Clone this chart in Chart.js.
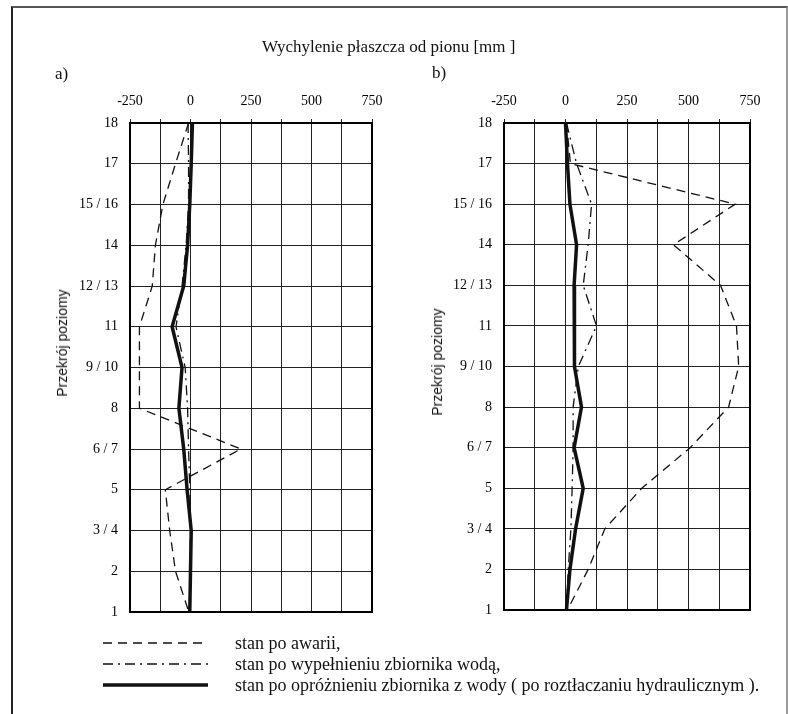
<!DOCTYPE html>
<html>
<head>
<meta charset="utf-8">
<script src="https://cdn.jsdelivr.net/npm/chart.js@4.4.0/dist/chart.umd.min.js"></script>
<style>
  body { margin: 0; background: #fff; }
  #page { position: relative; width: 788px; height: 714px; overflow: hidden; font-family: 'Liberation Serif', serif; color: #111; }
  #frame { position: absolute; left: 11px; top: 6px; width: 773px; height: 740px; border-top: 2px solid #555; border-left: 2px solid #222; border-right: 2px solid #999; }
  canvas { position: absolute; top: 0; }
  .txt { position: absolute; white-space: nowrap; line-height: 1; }
  .ytitle { position: absolute; font-family: 'Liberation Sans', sans-serif; font-size: 14px; transform: translate(-50%, -50%) rotate(-90deg); white-space: nowrap; }
  .leg { position: absolute; left: 235px; font-size: 18px; white-space: nowrap; line-height: 1; }
</style>
</head>
<body>
<div id="page">
  <div id="frame"></div>
  <canvas id="chartA" width="394" height="640" style="left:0"></canvas>
  <canvas id="chartB" width="394" height="640" style="left:394px"></canvas>

  <div class="txt" style="left:262px; top:38px; font-size:17px;">Wychylenie płaszcza od pionu [mm ]</div>
  <div class="txt" style="left:55px; top:65px; font-size:17px;">a)</div>
  <div class="txt" style="left:432px; top:64px; font-size:17px;">b)</div>
  <div class="ytitle" style="left:62px; top:343px;">Przekrój poziomy</div>
  <div class="ytitle" style="left:437px; top:362px;">Przekrój poziomy</div>

  <svg style="position:absolute; left:100px; top:630px;" width="120" height="70">
    <line x1="3" y1="13" x2="108" y2="13" stroke="#111" stroke-width="1.3" stroke-dasharray="9 6"></line>
    <line x1="3" y1="34" x2="108" y2="34" stroke="#111" stroke-width="1.3" stroke-dasharray="10 5 2 5"></line>
    <line x1="3" y1="55" x2="108" y2="55" stroke="#111" stroke-width="3.5"></line>
  </svg>
  <div class="leg" style="top:634px;">stan po awarii,</div>
  <div class="leg" style="top:655px;">stan po wypełnieniu zbiornika wodą,</div>
  <div class="leg" style="top:676px;">stan po opróżnieniu zbiornika z wody ( po roztłaczaniu hydraulicznym ).</div>
</div>

<script>
// przekroje, od góry (18) do dołu (1)
const levels = ['18', '17', '15 / 16', '14', '12 / 13', '11', '9 / 10', '8', '6 / 7', '5', '3 / 4', '2', '1'];
const xTicks = [-250, 0, 250, 500, 750];

// a)
const aAwaria = [-8, -62, -114, -145, -158, -211, -211, -211, 208, -104, -86, -62, -7];
const aWypelnienie = [-10, -8, -8, -18, -35, -60, -22, -12, -8, -3, 0, -2, -5];
const aOproznienie = [8, 3, -3, -12, -28, -76, -35, -48, -28, -14, 3, 0, -3];

// b)
const bAwaria = [4, 20, 690, 439, 630, 695, 704, 663, 507, 310, 160, 92, 8];
const bWypelnienie = [4, 45, 106, 92, 72, 126, 52, 31, 31, 27, 22, 11, 4];
const bOproznienie = [0, 8, 18, 45, 35, 35, 38, 65, 35, 72, 41, 18, 4];

// ramka wokół pola wykresu
const boxPlugin = {
    id: 'box',
    afterDatasetsDraw(chart) {
        const { ctx, chartArea: a } = chart;
        ctx.save();
        ctx.strokeStyle = '#000';
        ctx.lineWidth = 2;
        ctx.strokeRect(a.left, a.top, a.right - a.left, a.bottom - a.top);
        ctx.restore();
    }
};

function datasets(awaria, wypelnienie, oproznienie) {
    return [
        { label: 'stan po awarii', data: awaria, borderColor: '#111', borderWidth: 1.3, borderDash: [9, 6] },
        { label: 'stan po wypełnieniu zbiornika wodą', data: wypelnienie, borderColor: '#111', borderWidth: 1.3, borderDash: [10, 5, 2, 5] },
        { label: 'stan po opróżnieniu zbiornika z wody', data: oproznienie, borderColor: '#111', borderWidth: 3.5 }
    ];
}

function drawPanel(id, sets, yWidth, padRight, padBottom) {
    const ctx = document.getElementById(id).getContext('2d');
    return new Chart(ctx, {
        type: 'line',
        data: { labels: levels, datasets: sets },
        plugins: [boxPlugin],
        options: {
            responsive: false,
            animation: false,
            devicePixelRatio: 1,
            indexAxis: 'y',
            layout: { padding: { left: 0, top: 0, right: padRight, bottom: padBottom } },
            elements: { point: { radius: 0 }, line: { tension: 0 } },
            plugins: { legend: { display: false }, tooltip: { enabled: false } },
            scales: {
                x: {
                    type: 'linear',
                    position: 'top',
                    min: -250,
                    max: 750,
                    afterFit: s => { s.height = 123; },
                    ticks: {
                        stepSize: 125,
                        autoSkip: false,
                        maxRotation: 0,
                        padding: 9,
                        color: '#000',
                        font: { family: 'Liberation Serif', size: 14 },
                        callback: v => xTicks.includes(v) ? String(v) : ''
                    },
                    grid: { color: '#222', lineWidth: 1, tickLength: 4 },
                    border: { color: '#000', width: 2 }
                },
                y: {
                    type: 'category',
                    offset: false,
                    afterFit: s => { s.width = yWidth; },
                    ticks: {
                        padding: 12,
                        color: '#000',
                        font: { family: 'Liberation Serif', size: 14 }
                    },
                    grid: { color: '#222', lineWidth: 1, drawTicks: false },
                    border: { color: '#000', width: 2 }
                }
            }
        }
    });
}

drawPanel('chartA', datasets(aAwaria, aWypelnienie, aOproznienie), 130, 22, 28);
drawPanel('chartB', datasets(bAwaria, bWypelnienie, bOproznienie), 110, 38, 30);
</script>
</body>
</html>
